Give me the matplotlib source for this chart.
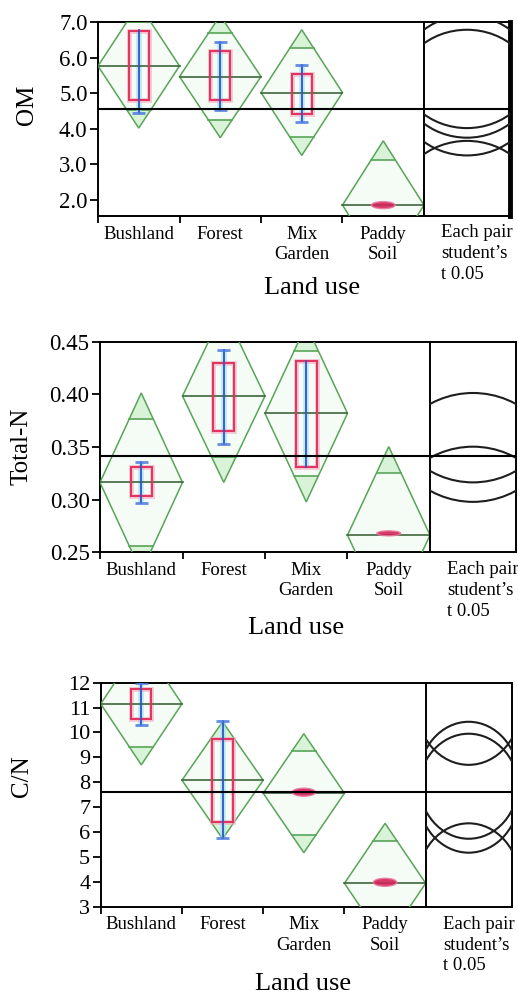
import matplotlib
matplotlib.use("Agg")
import numpy as np
import matplotlib.pyplot as plt
from matplotlib.patches import Polygon, Rectangle, Ellipse

plt.rcParams['font.family'] = ['Liberation Serif', 'DejaVu Serif']

# ---------------- data ----------------
categories = ["Bushland", "Forest", "Mix\nGarden", "Paddy\nSoil"]
pair_label = "Each pair\nstudent\u2019s\nt 0.05"
x_label = "Land use"

# Organic matter
om_mean = [5.77, 5.47, 5.02, 1.85]
om_ci = [1.75, 1.72, 1.77, 1.81]
om_grand = 4.55
om_q1 = [4.81, 4.81, 4.43, 1.84]
om_q3 = [6.75, 6.20, 5.55, 1.86]
om_lo = [4.44, 4.53, 4.20, 1.84]
om_hi = [6.78, 6.45, 5.80, 1.86]
om_ticks = [2.0, 3.0, 4.0, 5.0, 6.0, 7.0]

# Total nitrogen
tn_mean = [0.3163, 0.3984, 0.3819, 0.2663]
tn_ci = [0.085, 0.082, 0.084, 0.084]
tn_grand = 0.341
tn_q1 = [0.303, 0.365, 0.331, 0.2675]
tn_q3 = [0.331, 0.4295, 0.432, 0.2685]
tn_lo = [0.297, 0.353, 0.331, 0.2675]
tn_hi = [0.336, 0.442, 0.432, 0.2685]
tn_ticks = [0.25, 0.30, 0.35, 0.40, 0.45]

# C/N ratio
cn_mean = [11.15, 8.08, 7.56, 3.94]
cn_ci = [2.45, 2.35, 2.39, 2.41]
cn_grand = 7.62
cn_q1 = [10.55, 6.39, 7.57, 3.95]
cn_q3 = [11.75, 9.74, 7.63, 4.01]
cn_lo = [10.30, 5.75, 7.57, 3.95]
cn_hi = [12.00, 10.45, 7.63, 4.01]
cn_ticks = [3, 4, 5, 6, 7, 8, 9, 10, 11, 12]

# ---------------- figure ----------------
W, H = 518, 996
fig = plt.figure(figsize=(W / 100, H / 100), dpi=100)

GREEN = "#58a458"
MEANLINE = "#3b663b"
TIP = "#d9f3d9"
BODY = "#f5fcf5"
BOXRED = "#e03660"
WHISK = "#3550cc"


def px_axes(x0, y0, x1, y1):
    return fig.add_axes([x0 / W, 1 - y1 / H, (x1 - x0) / W, (y1 - y0) / H])


def draw_panel(box, ylim, ticks, fmt, ylab, ylab_xy, xlab_xy,
               mean, ci, grand, q1, q3, lo, hi, circ_k, right_lw, tick_fs,
               blob_h):
    x0, x1, x2, y0, y1 = box
    ax = px_axes(x0, y0, x1, y1)
    axr = px_axes(x1, y0, x2, y1)
    ax.set_xlim(0, len(categories))
    ax.set_ylim(*ylim)
    axr.set_xlim(-1, 1)
    axr.set_ylim(*ylim)

    box_w = 0.25
    for i, (m, h) in enumerate(zip(mean, ci)):
        c = i + 0.5
        d = h * np.sqrt(2) / 2
        frac = 0.5 * (1 - d / h)
        ax.add_patch(Polygon([(i, m), (c, m + h), (i + 1, m), (c, m - h)],
                             closed=True, facecolor=BODY, edgecolor="none",
                             zorder=1))
        for s in (1, -1):
            ax.add_patch(Polygon([(c - frac, m + s * d), (c + frac, m + s * d),
                                  (c, m + s * h)], closed=True,
                                 facecolor=TIP, edgecolor="none", zorder=1))
            ax.plot([c - frac, c + frac], [m + s * d, m + s * d],
                    color=GREEN, lw=1.2, zorder=3)
        ax.add_patch(Polygon([(i, m), (c, m + h), (i + 1, m), (c, m - h)],
                             closed=True, facecolor="none", edgecolor=GREEN,
                             lw=1.1, zorder=3))
        ax.plot([i, i + 1], [m, m], color=MEANLINE, lw=1.2, zorder=4.5)

    # box plots
    ppy = (y1 - y0) / (ylim[1] - ylim[0])
    for i in range(len(categories)):
        c = i + 0.5
        if (q3[i] - q1[i]) * ppy < 6:
            mid = (q1[i] + q3[i]) / 2
            ax.add_patch(Ellipse((c, mid), width=1.15 * box_w,
                                 height=blob_h / ppy, facecolor="#d4245a",
                                 edgecolor="#e87aa0", lw=1.0, alpha=0.9,
                                 zorder=5))
            continue
        ax.plot([c, c], [lo[i], hi[i]], color="#8fe0f2", lw=4, alpha=0.6,
                zorder=4, solid_capstyle="butt")
        ax.add_patch(Rectangle((c - box_w / 2, q1[i]), box_w, q3[i] - q1[i],
                               facecolor="none", edgecolor="#f6a8c2",
                               lw=3.5, alpha=0.6, zorder=4))
        ax.add_patch(Rectangle((c - box_w / 2, q1[i]), box_w, q3[i] - q1[i],
                               facecolor="none", edgecolor=BOXRED, lw=1.5,
                               zorder=5))
        ax.plot([c, c], [lo[i], hi[i]], color=WHISK, lw=1.3, zorder=6)
        for v, edge in ((lo[i], q1[i]), (hi[i], q3[i])):
            if abs(v - edge) * ppy > 3:
                ax.plot([c - 0.08, c + 0.08], [v, v], color="#4a78e0",
                        lw=2.0, alpha=0.85, zorder=6,
                        solid_capstyle="butt")

    # grand mean
    for a in (ax, axr):
        a.axhline(grand, color="black", lw=1.5, zorder=7)

    # comparison circles
    ppx_r = (x2 - x1) / 2
    for m, h in zip(mean, ci):
        r_px = h * ppy
        wdt = 2 * circ_k * r_px / ppx_r
        axr.add_patch(Ellipse((0, m), width=wdt, height=2 * h,
                              facecolor="none", edgecolor="#1e1e1e",
                              lw=1.5, zorder=3))

    # axes styling
    ax.set_yticks(ticks)
    ax.set_yticklabels([fmt.format(t) for t in ticks])
    ax.tick_params(axis="y", direction="out", length=6, width=1.3,
                   labelsize=tick_fs, pad=1.5)
    ax.set_xticks(range(len(categories)))
    ax.set_xticklabels([])
    ax.tick_params(axis="x", which="major", direction="out", length=5,
                   width=1.3)
    ax.set_xticks([i + 0.5 for i in range(len(categories))], minor=True)
    ax.set_xticklabels(categories, minor=True, fontsize=13.5,
                       linespacing=1.25)
    ax.tick_params(axis="x", which="minor", length=0, pad=7)
    for sp in ax.spines.values():
        sp.set_linewidth(1.4)
        sp.set_color("black")
    ax.spines["right"].set_visible(False)

    axr.set_xticks([])
    axr.set_yticks([])
    for sp in axr.spines.values():
        sp.set_linewidth(1.4)
        sp.set_color("black")
    axr.spines["right"].set_linewidth(right_lw)
    axr.text(0.2, -0.04, pair_label, transform=axr.transAxes, ha="left",
             va="top", fontsize=13.5, linespacing=1.3)

    fig.text(ylab_xy[0] / W, 1 - ylab_xy[1] / H, ylab, rotation=90,
             ha="center", va="center", fontsize=18)
    fig.text(xlab_xy[0] / W, 1 - xlab_xy[1] / H, x_label,
             ha="center", va="center", fontsize=19)


draw_panel((98, 424, 510, 22.3, 216), (1.544, 7.0), om_ticks, "{:.1f}",
           "OM", (27, 105), (312, 288),
           om_mean, om_ci, om_grand, om_q1, om_q3, om_lo, om_hi,
           circ_k=1.1, right_lw=3.5, tick_fs=16.5, blob_h=7)
draw_panel((100, 430, 516, 341.7, 552.3), (0.25, 0.45), tn_ticks, "{:.2f}",
           "Total-N", (22, 446), (296, 628),
           tn_mean, tn_ci, tn_grand, tn_q1, tn_q3, tn_lo, tn_hi,
           circ_k=1.0, right_lw=1.4, tick_fs=16.5, blob_h=5)
draw_panel((100.7, 425.7, 511.7, 682.7, 906.7), (3, 12), cn_ticks, "{:d}",
           "C/N", (22, 776), (303, 984),
           cn_mean, cn_ci, cn_grand, cn_q1, cn_q3, cn_lo, cn_hi,
           circ_k=0.86, right_lw=1.4, tick_fs=16, blob_h=8)

fig.savefig("out.png", dpi=100)
